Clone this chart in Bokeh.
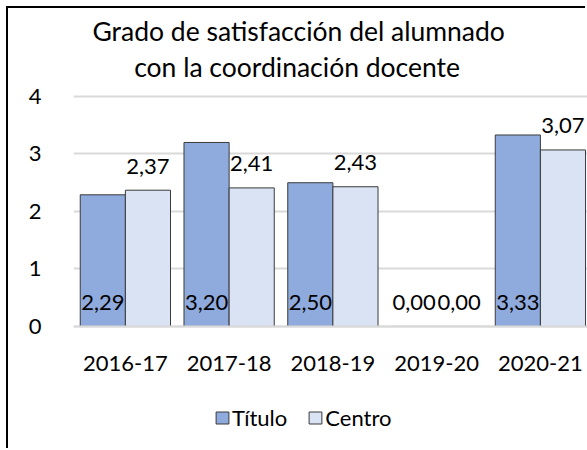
from bokeh.plotting import figure
from bokeh.models import ColumnDataSource, Range1d, FixedTicker, Label, Legend, LegendItem
from bokeh.transform import dodge
from bokeh.core.properties import value
from bokeh.embed import file_html
from bokeh.resources import INLINE

categories = ["2016-17", "2017-18", "2018-19", "2019-20", "2020-21"]
titulo = [2.29, 3.20, 2.50, 0.00, 3.33]
centro = [2.37, 2.41, 2.43, 0.00, 3.07]
y_ticks = [0, 1, 2, 3, 4]
title_lines = ["Grado de satisfacción del alumnado", "con la coordinación docente"]
series_names = ["Título", "Centro"]

FONT = "Lato"
C_TIT = "#8faadc"
C_CEN = "#dae3f3"
EDGE = "#3a3a3a"

idx = list(range(len(categories)))
fmt = lambda v: f"{v:.2f}".replace(".", ",")
src = ColumnDataSource(dict(
    x=idx, titulo=titulo, centro=centro, zero=[0] * len(idx),
    tl=[fmt(v) for v in titulo], cl=[fmt(v) for v in centro]))

W, H = 579, 442
p = figure(width=W, height=H, output_backend="svg", toolbar_location=None,
           x_range=Range1d(-0.5, 4.454), y_range=Range1d(-2.157, 5.53),
           min_border_left=65, min_border_right=0, min_border_top=0,
           min_border_bottom=0)
p.title.visible = False
p.outline_line_color = None
p.background_fill_color = "white"
p.border_fill_color = "white"
p.styles = {"margin-left": "8px", "margin-top": "8px",
            "box-shadow": "-2px -2px 0 0 #000"}

bw = 0.435
off = bw / 2
r1 = p.vbar(x=dodge("x", -off), top="titulo", width=bw, source=src,
            fill_color=C_TIT, line_color=EDGE, line_width=1)
r2 = p.vbar(x=dodge("x", off), top="centro", width=bw, source=src,
            fill_color=C_CEN, line_color=EDGE, line_width=1)

p.text(x=dodge("x", -off), y="zero", text="tl", source=src, text_align="center",
       text_baseline="middle", y_offset=-24, text_font=value(FONT),
       text_font_size="22px", text_color="black")
p.text(x=dodge("x", off), y="centro", text="cl", source=src, text_align="center",
       text_baseline="middle", y_offset=-24, text_font=value(FONT),
       text_font_size="22px", text_color="black")

# axes
p.xaxis.fixed_location = 0
p.xaxis.ticker = FixedTicker(ticks=idx)
p.xaxis.major_label_overrides = {i: c for i, c in zip(idx, categories)}
p.xaxis.axis_line_color = "#d9d9d9"
p.xaxis.axis_line_width = 2
p.xaxis.major_tick_line_color = None
p.xaxis.minor_tick_line_color = None
p.xaxis.major_label_standoff = 24
p.xaxis.major_label_text_font = FONT
p.xaxis.major_label_text_font_size = "22px"
p.xaxis.major_label_text_color = "black"

p.yaxis.ticker = FixedTicker(ticks=y_ticks)
p.yaxis.axis_line_color = None
p.yaxis.major_tick_line_color = None
p.yaxis.minor_tick_line_color = None
p.yaxis.major_label_standoff = 26
p.yaxis.major_label_text_font = FONT
p.yaxis.major_label_text_font_size = "22px"
p.yaxis.major_label_text_color = "black"

p.xgrid.grid_line_color = None
p.ygrid.grid_line_color = "#d9d9d9"
p.ygrid.grid_line_width = 2

# title (inside the frame, above the value axis maximum)
p.add_layout(Label(x=1.670, y=5.13, text=title_lines[0], text_align="center",
                   text_baseline="alphabetic", text_font=FONT, text_font_size="26.5px",
                   text_color="black"))
p.add_layout(Label(x=1.655, y=4.52, text=title_lines[1], text_align="center",
                   text_baseline="alphabetic", text_font=FONT, text_font_size="26.5px",
                   text_color="black"))

legend = Legend(items=[LegendItem(label=series_names[0], renderers=[r1]),
                       LegendItem(label=series_names[1], renderers=[r2])],
                orientation="horizontal", location=(141, 19),
                glyph_width=16, glyph_height=15, label_standoff=2, spacing=20,
                padding=0, margin=0, border_line_color=None,
                background_fill_alpha=0, label_text_font=FONT,
                label_text_font_size="22px", label_text_color="black")
p.add_layout(legend, "center")

open("out.html", "w").write(file_html(p, INLINE))
